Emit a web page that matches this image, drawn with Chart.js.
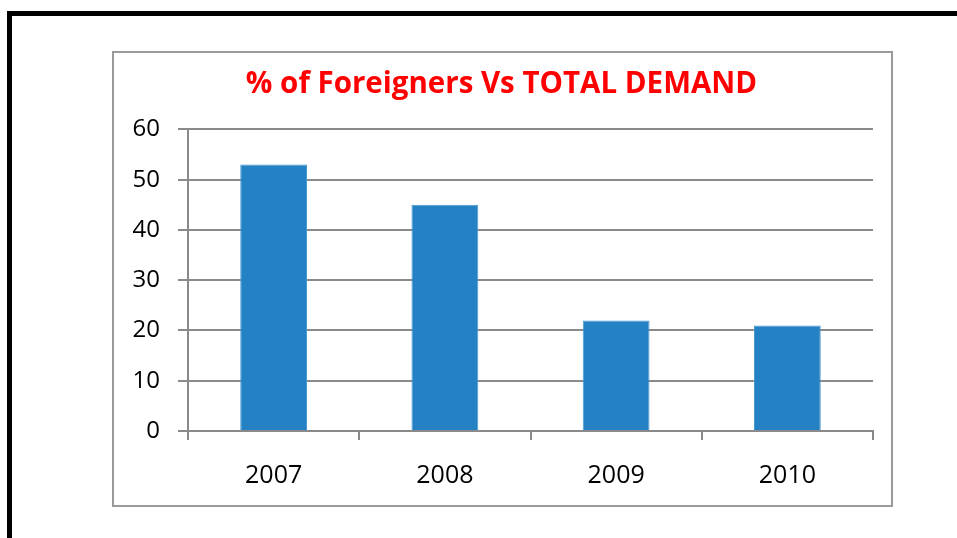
<!DOCTYPE html>
<html lang="en">
<head>
    <meta charset="UTF-8">
    <title>% of Foreigners Vs TOTAL DEMAND</title>
    <script src="https://cdn.jsdelivr.net/npm/chart.js"></script>
    <style>
        html, body { margin: 0; padding: 0; background: #fff; }
        body { width: 957px; height: 538px; position: relative; overflow: hidden; }
        #frame {
            position: absolute; left: 7px; top: 11px; width: 980px; height: 560px;
            border: 5px solid #000; box-sizing: border-box;
        }
        #box {
            position: absolute; left: 112px; top: 51px; width: 781px; height: 456px;
            border: 2px solid #9a9a9a; box-sizing: border-box; background: #fff;
        }
        #box canvas { display: block; }
    </style>
</head>
<body>
    <div id="frame"></div>
    <div id="box">
        <canvas id="demandChart" width="777" height="452"></canvas>
    </div>

    <script>
        const years = ['2007', '2008', '2009', '2010'];
        const foreignerShare = [53, 45, 22, 21];
        const yTicks = [0, 10, 20, 30, 40, 50, 60];

        const gridGray = '#8a8a8a';

        const ctx = document.getElementById('demandChart').getContext('2d');
        new Chart(ctx, {
            type: 'bar',
            data: {
                labels: years,
                datasets: [{
                    label: '% of Foreigners',
                    data: foreignerShare,
                    backgroundColor: '#2481c4',
                    borderColor: '#4a9ad3',
                    borderWidth: 1,
                    barPercentage: 0.39,
                    categoryPercentage: 1.0
                }]
            },
            options: {
                responsive: false,
                animation: false,
                layout: { padding: { left: 16, right: 18, top: 0, bottom: 0 } },
                scales: {
                    x: {
                        offset: true,
                        grid: {
                            offset: true,
                            drawOnChartArea: false,
                            drawTicks: true,
                            tickLength: 9,
                            color: gridGray,
                            lineWidth: 2
                        },
                        border: { color: gridGray, width: 2 },
                        ticks: {
                            color: '#000',
                            padding: 21,
                            font: { family: 'Open Sans', size: 25 }
                        },
                        afterFit: scale => { scale.height = 74; }
                    },
                    y: {
                        min: 0,
                        max: 60,
                        afterBuildTicks: scale => {
                            scale.ticks = yTicks.map(v => ({ value: v }));
                        },
                        grid: {
                            color: gridGray,
                            lineWidth: 2,
                            drawTicks: true,
                            tickLength: 10
                        },
                        border: { color: gridGray, width: 2 },
                        ticks: {
                            color: '#000',
                            padding: 18,
                            font: { family: 'Open Sans', size: 24 }
                        },
                        afterFit: scale => { scale.width = 58; }
                    }
                },
                plugins: {
                    legend: { display: false },
                    tooltip: { enabled: false },
                    title: {
                        display: true,
                        text: '% of Foreigners Vs TOTAL DEMAND',
                        color: '#ff0000',
                        font: { family: 'Open Sans', size: 29.5, weight: 'bold' },
                        padding: { top: 14, bottom: 27 }
                    }
                }
            }
        });
    </script>
</body>
</html>
